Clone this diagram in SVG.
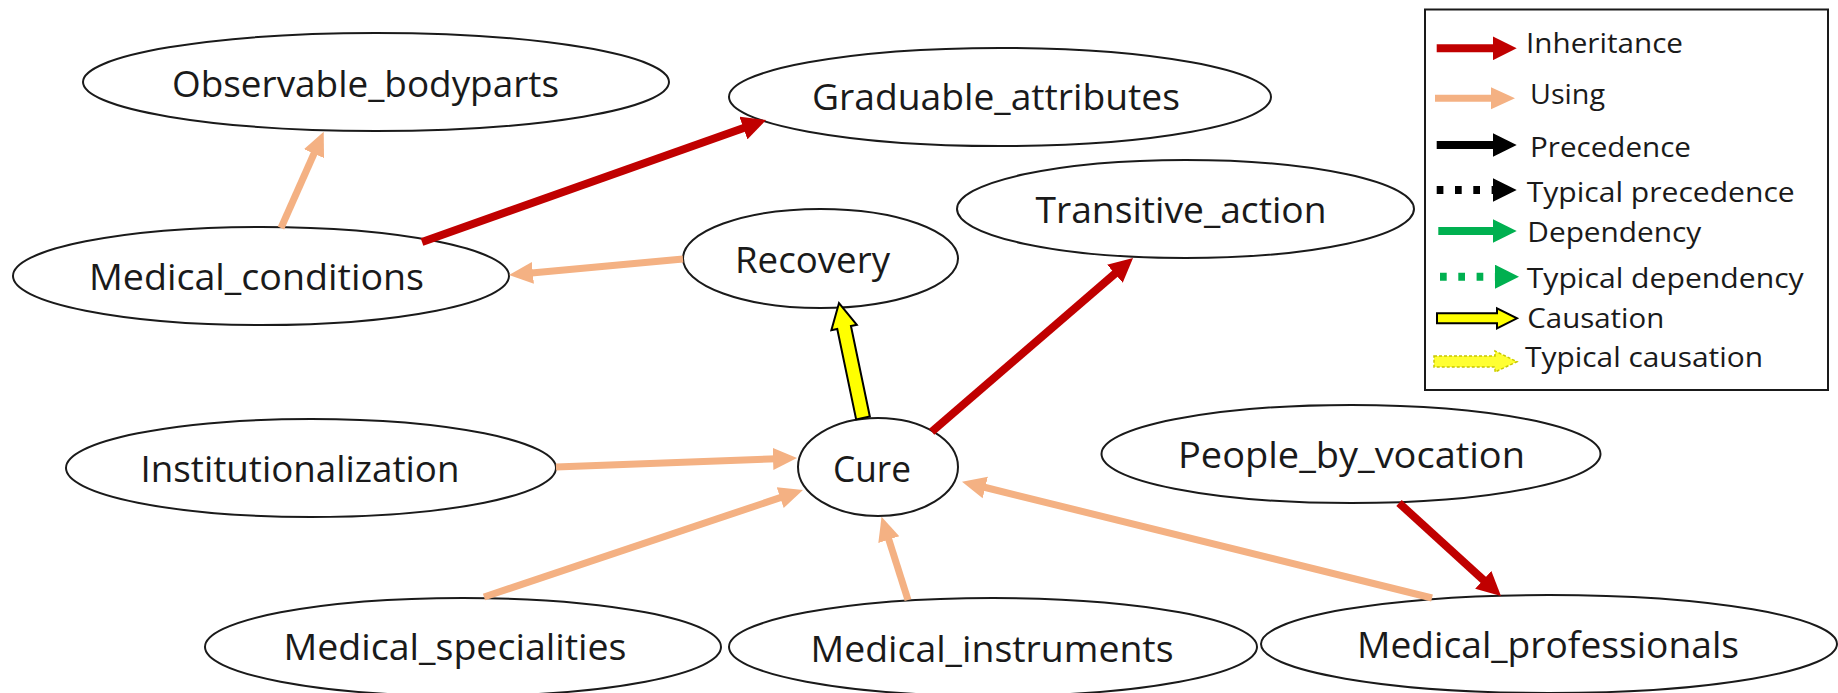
<svg xmlns="http://www.w3.org/2000/svg" width="1838" height="693" viewBox="0 0 1838 693">
  <style>
    .node ellipse { fill: #ffffff; stroke: #1a1a1a; stroke-width: 2; }
    .node text { font-family: "Open Sans", "Noto Sans", sans-serif; font-size: 36px; fill: #1a1a1a; text-anchor: middle; }
    .inh { stroke: #C00000; stroke-width: 8; fill: none; marker-end: url(#headRed); }
    .use { stroke: #F4B183; stroke-width: 7; fill: none; marker-end: url(#headPeach); }
    .legend text { font-family: "Open Sans", "Noto Sans", sans-serif; font-size: 28px; fill: #1a1a1a; }
    .prec { stroke: #000000; stroke-width: 8; fill: none; marker-end: url(#headBlack); }
    .dep { stroke: #00B050; stroke-width: 8; fill: none; marker-end: url(#headGreen); }
    .dotted { stroke-dasharray: 6.7 11.6; }
  </style>
  <defs>
    <marker id="headRed" markerUnits="userSpaceOnUse" viewBox="0 0 24 24" markerWidth="24" markerHeight="24" refX="4" refY="12" orient="auto">
      <path d="M0,0 L24,12 L0,24 z" fill="#C00000"/>
    </marker>
    <marker id="headPeach" markerUnits="userSpaceOnUse" viewBox="0 0 24 24" markerWidth="24" markerHeight="24" refX="4" refY="12" orient="auto">
      <path d="M0,1 L24,12 L0,23 z" fill="#F4B183"/>
    </marker>
    <marker id="headBlack" markerUnits="userSpaceOnUse" viewBox="0 0 24 24" markerWidth="24" markerHeight="24" refX="4" refY="12" orient="auto">
      <path d="M0,0 L24,12 L0,24 z" fill="#000000"/>
    </marker>
    <marker id="headGreen" markerUnits="userSpaceOnUse" viewBox="0 0 24 24" markerWidth="24" markerHeight="24" refX="4" refY="12" orient="auto">
      <path d="M0,0 L24,12 L0,24 z" fill="#00B050"/>
    </marker>
  </defs>

  <rect width="1838" height="693" fill="#ffffff"/>

  <!-- concept nodes -->
  <g id="observable_bodyparts" class="node">
    <ellipse cx="376" cy="82" rx="293" ry="49"/>
    <text x="365.5" y="96.7" textLength="387" lengthAdjust="spacingAndGlyphs">Observable_bodyparts</text>
  </g>
  <g id="graduable_attributes" class="node">
    <ellipse cx="1000" cy="97" rx="271" ry="49"/>
    <text x="996" y="110" textLength="368" lengthAdjust="spacingAndGlyphs">Graduable_attributes</text>
  </g>
  <g id="medical_conditions" class="node">
    <ellipse cx="261" cy="276" rx="248" ry="49"/>
    <text x="256.5" y="290" textLength="335" lengthAdjust="spacingAndGlyphs">Medical_conditions</text>
  </g>
  <g id="recovery" class="node">
    <ellipse cx="820.5" cy="258.5" rx="137.5" ry="49.5"/>
    <text x="812.5" y="273" textLength="155" lengthAdjust="spacingAndGlyphs">Recovery</text>
  </g>
  <g id="transitive_action" class="node">
    <ellipse cx="1185.5" cy="209" rx="228.5" ry="49"/>
    <text x="1181" y="223" textLength="291" lengthAdjust="spacingAndGlyphs">Transitive_action</text>
  </g>
  <g id="institutionalization" class="node">
    <ellipse cx="311" cy="468" rx="245" ry="49"/>
    <text x="300" y="481.7" textLength="319" lengthAdjust="spacingAndGlyphs">Institutionalization</text>
  </g>
  <g id="cure" class="node">
    <ellipse cx="878" cy="467" rx="80" ry="49"/>
    <text x="872" y="481.7" textLength="78" lengthAdjust="spacingAndGlyphs">Cure</text>
  </g>
  <g id="people_by_vocation" class="node">
    <ellipse cx="1351" cy="454" rx="249.5" ry="49"/>
    <text x="1351.5" y="468" textLength="347" lengthAdjust="spacingAndGlyphs">People_by_vocation</text>
  </g>
  <g id="medical_specialities" class="node">
    <ellipse cx="463" cy="647" rx="258" ry="49"/>
    <text x="455" y="660" textLength="343" lengthAdjust="spacingAndGlyphs">Medical_specialities</text>
  </g>
  <g id="medical_instruments" class="node">
    <ellipse cx="993" cy="647" rx="264" ry="49"/>
    <text x="992" y="661.7" textLength="363" lengthAdjust="spacingAndGlyphs">Medical_instruments</text>
  </g>
  <g id="medical_professionals" class="node">
    <ellipse cx="1549" cy="644" rx="288" ry="49"/>
    <text x="1548" y="658" textLength="382" lengthAdjust="spacingAndGlyphs">Medical_professionals</text>
  </g>

  <!-- relations between concepts -->
  <g id="connectors">
    <line class="use" x1="281" y1="228" x2="315.6" y2="150"/>
    <line class="inh" x1="422" y1="242" x2="747.2" y2="126.7"/>
    <line class="use" x1="683" y1="259" x2="528.9" y2="273.2"/>
    <line class="inh" x1="931.7" y1="431.7" x2="1117.9" y2="271.1"/>
    <polygon points="869.85,416.57 850.95,326.07 856.83,324.84 839,303 831.37,330.16 837.25,328.93 856.15,419.43" fill="#FFFF00" stroke="#000000" stroke-width="2" stroke-linejoin="miter"/>
    <line class="use" x1="556" y1="467" x2="777" y2="458.75"/>
    <line class="use" x1="484" y1="597" x2="784" y2="496.4"/>
    <line class="use" x1="908" y1="600" x2="887.6" y2="535.8"/>
    <line class="use" x1="1432" y1="598" x2="981.4" y2="486.5"/>
    <line class="inh" x1="1399" y1="503" x2="1486.2" y2="582.5"/>
  </g>

  <!-- key of relation types -->
  <g id="legend" class="legend">
    <rect x="1425" y="9.5" width="403" height="380.5" fill="#ffffff" stroke="#1a1a1a" stroke-width="2"/>
    <line class="inh" x1="1436.7" y1="48.3" x2="1496.7" y2="48.3"/>
    <text x="1526" y="53.3" textLength="157" lengthAdjust="spacingAndGlyphs">Inheritance</text>
    <line class="use" x1="1435" y1="98.3" x2="1495" y2="98.3"/>
    <text x="1530" y="104" textLength="75" lengthAdjust="spacingAndGlyphs">Using</text>
    <line class="prec" x1="1436.7" y1="145" x2="1496.7" y2="145"/>
    <text x="1530" y="156.7" textLength="161" lengthAdjust="spacingAndGlyphs">Precedence</text>
    <line class="prec dotted" x1="1436.7" y1="190" x2="1496.7" y2="190"/>
    <text x="1526.7" y="201.7" textLength="268" lengthAdjust="spacingAndGlyphs">Typical precedence</text>
    <line class="dep" x1="1438.3" y1="231" x2="1496.7" y2="231"/>
    <text x="1527.3" y="241.7" textLength="174" lengthAdjust="spacingAndGlyphs">Dependency</text>
    <line class="dep dotted" x1="1440" y1="276.7" x2="1499" y2="276.7"/>
    <text x="1526.7" y="288.3" textLength="277" lengthAdjust="spacingAndGlyphs">Typical dependency</text>
    <polygon points="1437,313.3 1497,313.3 1497,308.3 1517,318.3 1497,328.3 1497,323.3 1437,323.3" fill="#FFFF00" stroke="#000000" stroke-width="2"/>
    <text x="1527.3" y="328.3" textLength="137" lengthAdjust="spacingAndGlyphs">Causation</text>
    <polygon points="1434,356 1495,356 1495,351 1517,361.7 1495,372 1495,367 1434,367" fill="#FFFF33" stroke="#C8C800" stroke-width="1.5" stroke-dasharray="3 2"/>
    <text x="1525" y="366.7" textLength="238" lengthAdjust="spacingAndGlyphs">Typical causation</text>
  </g>
</svg>
